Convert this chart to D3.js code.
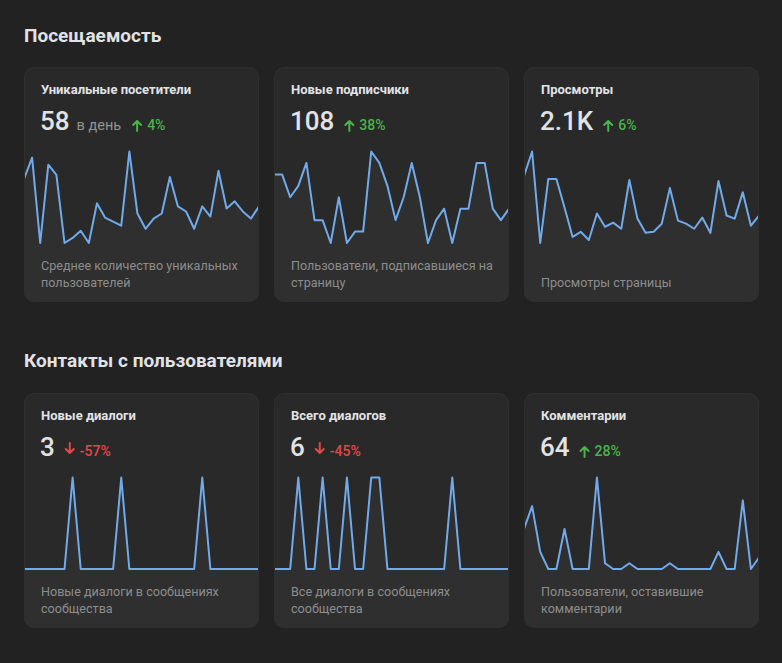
<!DOCTYPE html>
<html>
<head>
<meta charset="utf-8">
<script src="https://cdn.jsdelivr.net/npm/d3@7"></script>
<style>
  html, body { margin: 0; padding: 0; background: #222222; }
  svg { display: block; font-family: Roboto, "Noto Sans", sans-serif; }
</style>
</head>
<body>
<div id="chart"></div>
<script>
// sections
const sectionTitles = ["Посещаемость", "Контакты с пользователями"];

// cards (row by row)
const cardTitles = ["Уникальные посетители", "Новые подписчики", "Просмотры",
                    "Новые диалоги", "Всего диалогов", "Комментарии"];
const cardNumbers = ["58", "108", "2.1K", "3", "6", "64"];
const cardUnits = ["в день", "", "", "", "", ""];
const cardChanges = ["4%", "38%", "6%", "-57%", "-45%", "28%"];
const cardTrend = ["up", "up", "up", "down", "down", "up"];
const cardNotes = [
  ["Среднее количество уникальных", "пользователей"],
  ["Пользователи, подписавшиеся на", "страницу"],
  ["Просмотры страницы"],
  ["Новые диалоги в сообщениях", "сообщества"],
  ["Все диалоги в сообщениях", "сообщества"],
  ["Пользователи, оставившие", "комментарии"]
];

// daily values, 30 days
const visitors = [86,107,23,100,90,23,28,35,23,62,48,44,40,113,52,37,47,52,88,59,54,37,59,49,94,57,64,54,47,59];
const subscribers = [6,6,4,5,7,2,2,0,4,0,1,1,8,7,5,2,4,7,4,0,2,3,0,3,3,7,7,3,2,3];
const views = [106,130,40,103,103,75,46,51,43,69,56,60,54,102,64,50,51,59,94,62,59,54,65,50,101,67,64,90,57,67];
const newDialogs = [0,0,0,0,0,0,1,0,0,0,0,0,1,0,0,0,0,0,0,0,0,0,1,0,0,0,0,0,0,0];
const allDialogs = [0,0,0,1,0,0,1,0,0,1,0,0,1,1,0,0,0,0,0,0,0,0,1,0,0,0,0,0,0,0];
const comments = [7,11,3,0,0,7,0,0,0,16,1,0,0,1,0,0,0,0,1,0,0,0,0,0,3,0,0,12,0,2];

const series = [visitors, subscribers, views, newDialogs, allDialogs, comments];

const width = 782, height = 663;
const cardW = 235, cardH = 235, gap = 15, left = 24;
const rowTop = [67, 393];
const headY = [42, 367];

const svg = d3.select("#chart").append("svg")
  .attr("width", width).attr("height", height);

svg.append("rect").attr("width", width).attr("height", height).attr("fill", "#222222");

sectionTitles.forEach((t, r) => {
  svg.append("text")
    .attr("x", left).attr("y", headY[r])
    .attr("font-size", 19).attr("font-weight", 700)
    .attr("fill", "#e1e3e6")
    .text(t);
});

const defs = svg.append("defs");

series.forEach((data, i) => {
  const row = Math.floor(i / 3), col = i % 3;
  const x0 = left + col * (cardW + gap), y0 = rowTop[row];
  const g = svg.append("g").attr("transform", `translate(${x0},${y0})`);

  defs.append("clipPath").attr("id", "clip" + i)
    .append("rect").attr("width", cardW).attr("height", cardH).attr("rx", 10);

  g.append("rect")
    .attr("width", cardW).attr("height", cardH).attr("rx", 10)
    .attr("fill", "#292929");

  // sparkline
  const x = d3.scaleLinear().domain([0, data.length - 1]).range([0, cardW]);
  const y = d3.scaleLinear().domain(d3.extent(data)).range([176, 84.5]);

  const area = d3.area()
    .x((d, k) => x(k)).y0(cardH).y1(d => y(d));
  const line = d3.line()
    .x((d, k) => x(k)).y(d => y(d));

  const spark = g.append("g").attr("clip-path", `url(#clip${i})`);
  spark.append("path").datum(data)
    .attr("fill", "#2f2f2f")
    .attr("d", area);
  spark.append("path").datum(data)
    .attr("fill", "none")
    .attr("stroke", "#71aaeb")
    .attr("stroke-width", 2)
    .attr("stroke-linejoin", "round")
    .attr("d", line);

  g.append("rect")
    .attr("x", 0.5).attr("y", 0.5)
    .attr("width", cardW - 1).attr("height", cardH - 1).attr("rx", 10)
    .attr("fill", "none").attr("stroke", "#2f2f2f");

  // texts
  g.append("text")
    .attr("x", 17).attr("y", 27)
    .attr("font-size", 13).attr("font-weight", 700)
    .attr("fill", "#e1e3e6")
    .text(cardTitles[i]);

  const num = g.append("text")
    .attr("x", 16).attr("y", 63)
    .attr("font-size", 26).attr("font-weight", 500)
    .attr("fill", "#e1e3e6")
    .text(cardNumbers[i]);
  let cx = 16 + num.node().getComputedTextLength() + 8;

  if (cardUnits[i]) {
    const u = g.append("text")
      .attr("x", cx - 1).attr("y", 63)
      .attr("font-size", 14.5)
      .attr("fill", "#939393")
      .text(cardUnits[i]);
    cx += u.node().getComputedTextLength() + 11;
  } else {
    cx += 3;
  }

  const up = cardTrend[i] === "up";
  const col2 = up ? "#4bb34b" : "#e64646";
  const ax = cx + 4;
  const arrow = up
    ? `M${ax},${64} V${54} M${ax - 4},${58} L${ax},${54} L${ax + 4},${58}`
    : `M${ax},${50} V${60} M${ax - 4},${56} L${ax},${60} L${ax + 4},${56}`;
  g.append("path").attr("d", arrow)
    .attr("fill", "none").attr("stroke", col2).attr("stroke-width", 2)
    .attr("stroke-linecap", "round").attr("stroke-linejoin", "round");
  g.append("text")
    .attr("x", cx + 14).attr("y", 63)
    .attr("font-size", 14).attr("font-weight", 500)
    .attr("fill", col2)
    .text(cardChanges[i]);

  const notes = cardNotes[i];
  notes.forEach((s, k) => {
    g.append("text")
      .attr("x", 17).attr("y", 220 - (notes.length - 1 - k) * 17)
      .attr("font-size", 12.6)
      .attr("fill", "#8d8d8d")
      .text(s);
  });
});
</script>
</body>
</html>
